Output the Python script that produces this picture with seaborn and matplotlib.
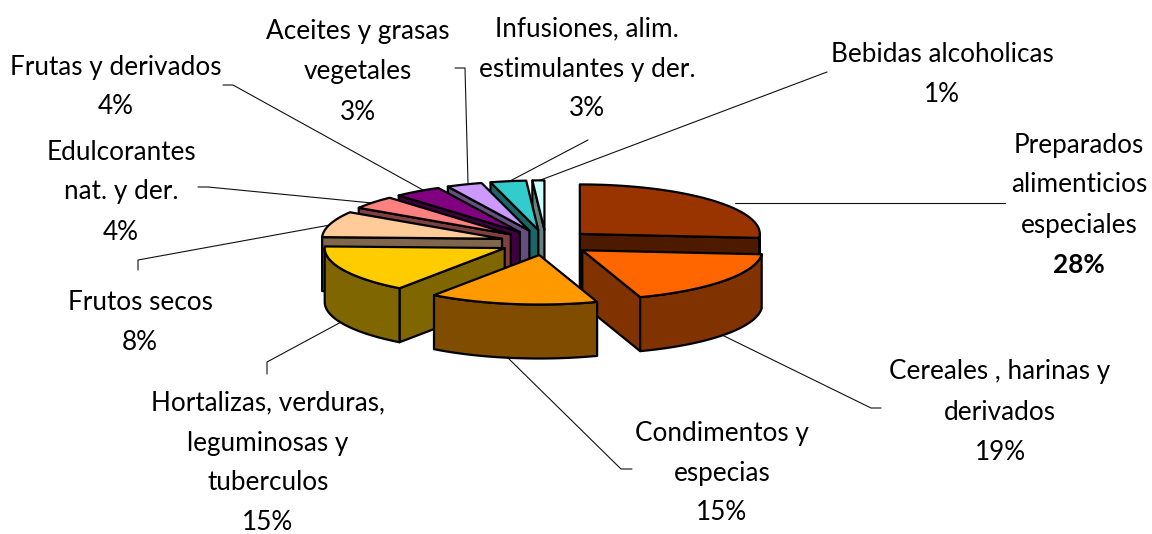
import numpy as np
import matplotlib.pyplot as plt
from matplotlib.patches import Polygon
import seaborn as sns

categorias = ["Preparados\nalimenticios\nespeciales", "Cereales , harinas y\nderivados",
              "Condimentos y\nespecias", "Hortalizas, verduras,\nleguminosas y\ntuberculos",
              "Frutos secos", "Edulcorantes\nnat. y der.", "Frutas y derivados",
              "Aceites y grasas\nvegetales", "Infusiones, alim.\nestimulantes y der.",
              "Bebidas alcoholicas"]
porcentajes = [28, 19, 15, 15, 8, 4, 4, 3, 3, 1]
colores = ["#993300", "#FF6600", "#FF9900", "#FFCC00", "#FFCC99",
           "#FF8080", "#800080", "#CC99FF", "#33CCCC", "#CCFFFF"]

# centro del pastel y forma (pixeles)
cx, cy = 546, 242.5
a, b = 180, 49.5
alto = 54
explode = 46

# x centrada y primera linea de cada etiqueta
pos_etiquetas = [(1079, 145), (1000, 372), (722, 433), (268, 403), (140, 302),
                 (121, 152), (116, 67), (358, 32), (587, 29), (942, 54)]
# lineas guia
guias = [[(735, 203), (1005, 203)],
         [(720, 334), (871, 408), (881, 408)],
         [(507, 357), (621, 469), (632, 469)],
         [(343, 321), (267, 362), (267, 374)],
         [(330, 225), (138, 260), (138, 270)],
         [(372, 203), (208, 187), (198, 187)],
         [(423, 190), (233, 85), (223, 85)],
         [(468, 183), (465, 68), (455, 68)],
         [(510, 181), (588, 140)],
         [(538, 181), (827, 72)]]

sns.set_theme(style="white")
plt.rcParams['font.family'] = ['Lato', 'DejaVu Sans']

fig = plt.figure(figsize=(11.52, 5.34), dpi=100)
ax = fig.add_axes([0, 0, 1, 1])
ax.set_xlim(0, 1152)
ax.set_ylim(534, 0)
ax.axis("off")


def deforma(ang):
    # la perspectiva de excel comprime un poco los angulos
    return ang - np.radians(8) * np.sin(ang / 2)


def punto(ang, ox, oy):
    return ox + a * np.sin(ang), oy - b * np.cos(ang)


def dibuja(puntos, color, z):
    ax.add_patch(Polygon(puntos, closed=True, facecolor=color, edgecolor="black",
                         linewidth=1.6, joinstyle="round", zorder=z))


paleta = sns.color_palette(colores)
limites = deforma(np.radians(np.cumsum([0] + porcentajes) * 3.6))
orden = [9, 8, 7, 6, 5, 4, 3, 0, 1, 2]

for z, i in enumerate(orden):
    ini, fin = limites[i], limites[i + 1]
    medio = (ini + fin) / 2
    ox = cx + explode * np.sin(medio)
    oy = cy - explode * b / a * np.cos(medio)
    oscuro = tuple(c * 0.5 for c in paleta[i])
    zz = 2 + z

    for ang, visible in ((ini, np.sin(ini) < 0), (fin, np.sin(fin) > 0)):
        if visible:
            x, y = punto(ang, ox, oy)
            dibuja([(ox, oy), (x, y), (x, y + alto), (ox, oy + alto)], oscuro, zz)

    # pared curva, solo la parte de delante
    d1, d2 = max(ini, np.pi / 2), min(fin, 3 * np.pi / 2)
    if d2 > d1:
        arco = np.linspace(d1, d2, 60)
        x, y = punto(arco, ox, oy)
        borde = list(zip(x, y)) + list(zip(x[::-1], y[::-1] + alto))
        dibuja(borde, oscuro, zz)

    arco = np.linspace(ini, fin, 60)
    x, y = punto(arco, ox, oy)
    dibuja([(ox, oy)] + list(zip(x, y)), paleta[i], zz)

for g in guias:
    xs, ys = zip(*g)
    ax.plot(xs, ys, color="#111111", lw=0.8, zorder=1)

for nombre, pct, (x, y) in zip(categorias, porcentajes, pos_etiquetas):
    lineas = nombre.split("\n")
    for n, t in enumerate(lineas + [f"{pct}%"]):
        peso = "bold" if pct == max(porcentajes) and n == len(lineas) else "normal"
        ax.text(x, y + n * 40, t, ha="center", va="center", fontsize=18.8,
                color="black", fontweight=peso, zorder=20)

fig.savefig("out.png", dpi=100, facecolor="white")
